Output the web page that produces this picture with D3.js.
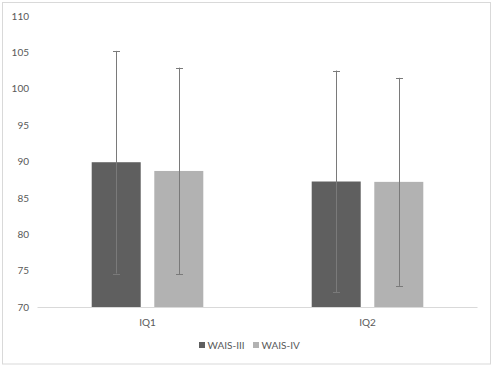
<!DOCTYPE html>
<html><head><meta charset="utf-8">
<script src="https://cdn.jsdelivr.net/npm/d3@7"></script>
<style>
body{margin:0;background:#fff;}
svg text{font-family:Lato,"Open Sans",sans-serif;fill:#595959;}
</style></head>
<body><svg id="c" width="494" height="367"></svg>
<script>
const categories = ["IQ1", "IQ2"];
const seriesNames = ["WAIS-III", "WAIS-IV"];
const waisIII = [89.9, 87.25];
const waisIV = [88.7, 87.2];
const waisIII_sd = [15.3, 15.25];
const waisIV_sd = [14.2, 14.3];
const yTicks = [70, 75, 80, 85, 90, 95, 100, 105, 110];
const colors = ["#5f5f5f", "#b2b2b2"];

const svg = d3.select("#c");
svg.append("rect").attr("x",2.5).attr("y",2.5).attr("width",488).attr("height",361.5)
  .attr("fill","#fff").attr("stroke","#d9d9d9").attr("stroke-width",1);

const mLeft = 37.5, mRight = 477.5, mTop = 16, mBottom = 307;
const x = d3.scaleBand().domain(categories).range([mLeft, mRight]);
const xs = d3.scaleBand().domain(seriesNames).range([0, x.bandwidth()]).paddingInner(0.217).paddingOuter(0.866);
const y = d3.scaleLinear().domain([70, 110]).range([mBottom, mTop]);

const yAxis = d3.axisLeft(y).tickValues(yTicks).tickSize(0).tickPadding(8);
const gy = svg.append("g").attr("transform",`translate(${mLeft},0)`).call(yAxis);
gy.select(".domain").remove();
gy.selectAll("text").style("font-size","10px").attr("x",-8.5);

const data = [waisIII, waisIV];
const sds = [waisIII_sd, waisIV_sd];
seriesNames.forEach((s, si) => {
  const g = svg.append("g");
  categories.forEach((c, ci) => {
    const v = data[si][ci];
    g.append("rect").attr("x", x(c)+xs(s)).attr("width", xs.bandwidth())
      .attr("y", y(v)).attr("height", y(70)-y(v)).attr("fill", colors[si]);
  });
});

// axis line
svg.append("line").attr("x1",mLeft).attr("x2",mRight).attr("y1",mBottom+0.5).attr("y2",mBottom+0.5)
  .attr("stroke","#d9d9d9").attr("stroke-width",1);

// error bars
seriesNames.forEach((s, si) => {
  categories.forEach((c, ci) => {
    const v = data[si][ci], sd = sds[si][ci];
    const cx = Math.round(x(c)+xs(s)+xs.bandwidth()/2)+0.5;
    const y1 = y(v+sd), y2 = y(v-sd);
    const col = "#7a7a7a";
    svg.append("line").attr("x1",cx).attr("x2",cx).attr("y1",y1).attr("y2",y2).attr("stroke",col).attr("stroke-width",1);
    [y1,y2].forEach(yy => svg.append("line").attr("x1",cx-3.5).attr("x2",cx+3.5)
      .attr("y1",Math.round(yy)+0.5).attr("y2",Math.round(yy)+0.5).attr("stroke",col).attr("stroke-width",1));
  });
});

// category labels
svg.append("g").selectAll("text").data(categories).join("text")
  .attr("x", d => x(d)+x.bandwidth()/2).attr("y", 326)
  .attr("text-anchor","middle").style("font-size","10px").text(d => d);

// legend
const legendX = [199, 253];
seriesNames.forEach((s, i) => {
  svg.append("rect").attr("x", legendX[i]).attr("y", 342).attr("width",6).attr("height",6).attr("fill",colors[i]);
  svg.append("text").attr("x", legendX[i]+8.5).attr("y", 348.5).style("font-size","10px").text(s);
});
</script></body></html>
